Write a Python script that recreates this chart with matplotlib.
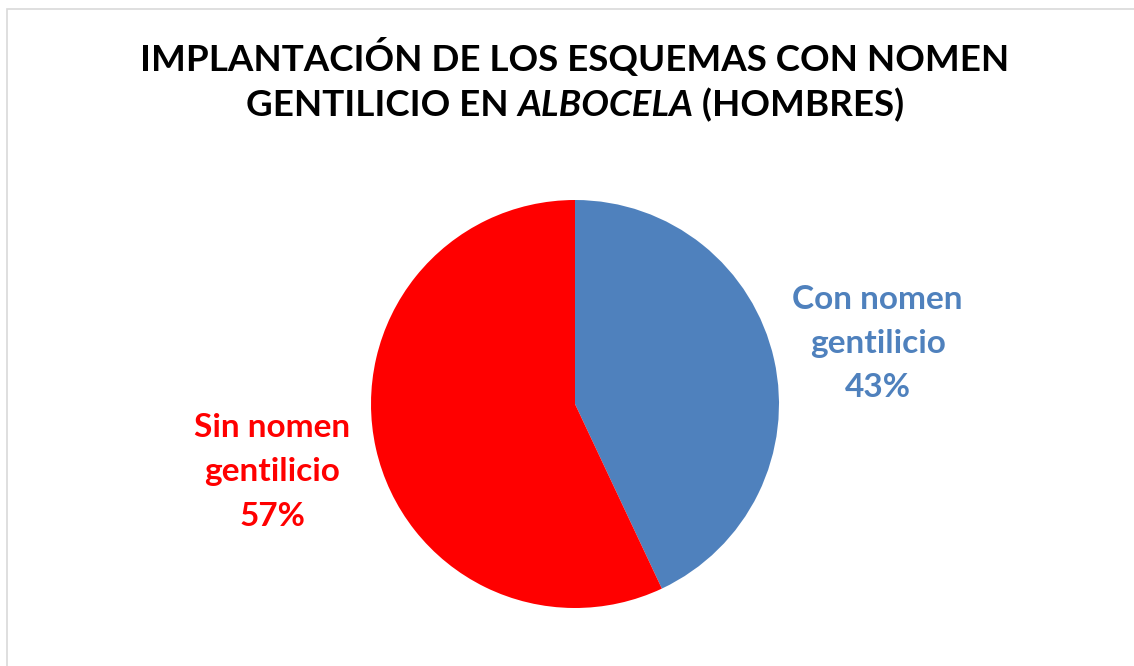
import matplotlib
matplotlib.use("Agg")
from matplotlib import pyplot
from matplotlib.patches import Rectangle

# data
categories = ["Con nomen\ngentilicio", "Sin nomen\ngentilicio"]
shares = [43, 57]
colours = ["#4F81BD", "#FF0000"]

title_line1 = "IMPLANTACIÓN DE LOS ESQUEMAS CON NOMEN"
title_line2 = ["GENTILICIO EN ", "ALBOCELA", " (HOMBRES)"]
title_styles = ["normal", "italic", "normal"]

pyplot.rcParams["font.family"] = ["Lato", "DejaVu Sans"]

fig = pyplot.figure(figsize=(11.34, 6.66), dpi=100)
fig.patch.set_facecolor("white")

# chart area border
fig.patches.append(Rectangle((7 / 1134., -0.1), 1.2, 1 - 9 / 666. + 0.1,
                             transform=fig.transFigure, fill=False,
                             edgecolor="#D9D9D9", linewidth=1.2))

radius_px = 204
cx, cy = 575, 404
ax = fig.add_axes([(cx - radius_px) / 1134., (666 - cy - radius_px) / 666.,
                   2 * radius_px / 1134., 2 * radius_px / 666.])

labels = [c + "\n" + str(s) + "%" for c, s in zip(categories, shares)]
wedges, texts = ax.pie(shares, colors=colours, startangle=90,
                       counterclock=False, labels=labels,
                       labeldistance=1.52, radius=1,
                       wedgeprops={"linewidth": 0})
for t, col in zip(texts, colours):
    t.set_ha("center")
    t.set_va("center")
    t.set_color(col)
    t.set_fontsize(24)
    t.set_fontweight("bold")
    t.set_linespacing(1.64)
# excel nudges the right label a bit lower
texts[0].set_y(texts[0].get_position()[1] - 0.035)
ax.set_xlim(-1, 1)
ax.set_ylim(-1, 1)
ax.set_aspect("equal")

# title
fs = 26.5
fig.text(575 / 1134., 1 - 58 / 666., title_line1, ha="center", va="center",
         fontsize=fs, fontweight="bold")

renderer = fig.canvas.get_renderer()
pieces = []
for s, st in zip(title_line2, title_styles):
    t = fig.text(0, 1 - 105 / 666., s, ha="left", va="center",
                 fontsize=fs, fontweight="bold", style=st)
    pieces.append(t)
widths = [p.get_window_extent(renderer).width for p in pieces]
x = 575 - sum(widths) / 2.
for p, w in zip(pieces, widths):
    p.set_x(x / 1134.)
    x += w

fig.savefig("out.png", dpi=100)
